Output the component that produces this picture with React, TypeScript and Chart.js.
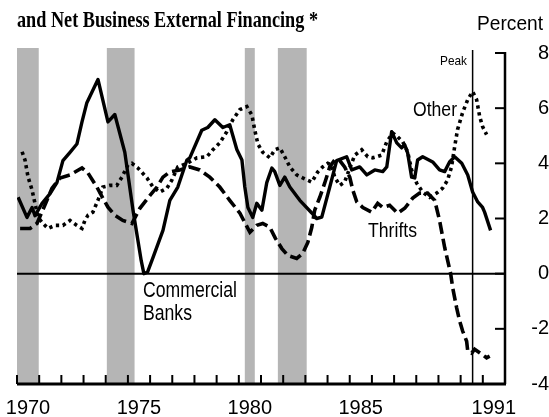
import React, { useEffect, useRef } from 'react';
import { Chart, registerables } from 'chart.js';

Chart.register(...registerables);

// ---- Data (year, percent) ----
const commercialBanks: [number, number][] = [
  [1970.05, 2.77], [1970.45, 2.04], [1970.68, 2.4], [1970.81, 2.1], [1971.13, 2.55], [1971.49, 2.9],
  [1971.8, 3.3], [1972.07, 4.1], [1972.39, 4.4], [1972.7, 4.7], [1972.93, 5.5], [1973.15, 6.2],
  [1973.65, 7.04], [1974.1, 5.5], [1974.41, 5.77], [1974.86, 4.4], [1975.23, 2.3], [1975.6, 0.47],
  [1975.72, 0.0], [1975.88, 0.05], [1976.13, 0.58], [1976.58, 1.57], [1976.89, 2.66], [1977.25, 3.14],
  [1977.66, 4.12], [1977.79, 4.2], [1978.33, 5.2], [1978.6, 5.3], [1978.92, 5.58], [1979.28, 5.3],
  [1979.59, 5.4], [1979.91, 4.5], [1980.14, 4.12], [1980.27, 3.14], [1980.41, 2.4], [1980.63, 2.04],
  [1980.81, 2.55], [1981.04, 2.3], [1981.26, 3.3], [1981.49, 3.83], [1981.62, 3.7], [1981.85, 3.2],
  [1982.07, 3.5], [1982.3, 3.14], [1982.75, 2.66], [1983.29, 2.2], [1983.51, 2.0], [1983.74, 2.05],
  [1984.1, 3.14], [1984.41, 4.1], [1984.86, 4.24], [1985.09, 3.76], [1985.45, 3.87], [1985.77, 3.58],
  [1986.13, 3.76], [1986.49, 3.7], [1986.67, 3.87], [1986.89, 5.15], [1987.12, 4.74], [1987.34, 4.56],
  [1987.48, 4.67], [1987.61, 4.38], [1987.79, 3.5], [1987.93, 3.47], [1988.06, 4.12], [1988.29, 4.24],
  [1988.74, 4.05], [1989.05, 3.76], [1989.28, 3.7], [1989.5, 4.05], [1989.73, 4.24], [1990.05, 4.0],
  [1990.32, 3.58], [1990.54, 2.96], [1990.77, 2.6], [1990.99, 2.4], [1991.08, 2.23], [1991.35, 1.57],
];

const thrifts: [number, number][] = [
  [1970.14, 1.64], [1970.59, 1.64], [1970.9, 1.82], [1971.35, 2.66], [1971.58, 3.1], [1971.94, 3.47],
  [1972.39, 3.58], [1972.93, 3.83], [1973.2, 3.65], [1973.6, 3.14], [1973.87, 2.74], [1974.1, 2.41],
  [1974.41, 2.12], [1974.77, 1.93], [1975.18, 1.82], [1975.54, 2.37], [1975.9, 2.74], [1976.31, 3.14],
  [1976.58, 3.5], [1976.89, 3.69], [1977.34, 3.76], [1977.79, 3.87], [1978.24, 3.76], [1978.69, 3.5],
  [1979.14, 3.14], [1979.59, 2.66], [1980.05, 2.19], [1980.5, 1.5], [1980.81, 1.75], [1981.08, 1.82],
  [1981.4, 1.68], [1981.65, 1.28], [1981.94, 0.91], [1982.21, 0.66], [1982.61, 0.55], [1982.88, 0.73],
  [1983.11, 1.13], [1983.29, 1.68], [1983.42, 2.3], [1983.65, 2.77], [1983.87, 3.28], [1984.1, 3.87],
  [1984.32, 4.12], [1984.55, 4.1], [1984.77, 3.87], [1985.0, 3.5], [1985.14, 3.03], [1985.32, 2.6],
  [1985.59, 2.4], [1985.99, 2.23], [1986.26, 2.55], [1986.49, 2.4], [1986.8, 2.48], [1987.16, 2.19],
  [1987.48, 2.37], [1987.84, 2.74], [1988.15, 2.92], [1988.51, 2.92], [1988.83, 2.66], [1989.05, 1.93],
  [1989.28, 0.95], [1989.55, 0.0], [1989.64, -0.5], [1989.82, -1.24], [1989.95, -1.7], [1990.09, -2.08],
  [1990.27, -2.45], [1990.32, -2.8], [1990.5, -2.88], [1990.63, -2.74], [1990.95, -2.92], [1991.17, -3.05],
  [1991.31, -2.99],
];

const other: [number, number][] = [
  [1970.23, 4.42], [1970.36, 4.12], [1970.5, 3.5], [1970.68, 3.03], [1970.81, 2.55], [1970.95, 2.04],
  [1971.17, 1.82], [1971.4, 1.64], [1971.71, 1.75], [1972.07, 1.75], [1972.39, 1.93], [1972.7, 1.75],
  [1972.93, 1.64], [1973.06, 1.93], [1973.2, 2.12], [1973.42, 2.23], [1973.65, 2.66], [1973.87, 3.14],
  [1974.19, 3.2], [1974.5, 3.2], [1974.73, 3.5], [1975.0, 3.94], [1975.18, 4.0], [1975.45, 3.83],
  [1975.86, 3.47], [1976.13, 3.14], [1976.44, 2.96], [1976.76, 3.1], [1976.98, 3.39], [1977.25, 3.87],
  [1977.66, 4.0], [1978.11, 4.2], [1978.56, 4.24], [1978.83, 4.49], [1979.14, 4.74], [1979.46, 5.15],
  [1979.73, 5.58], [1980.05, 5.95], [1980.36, 6.06], [1980.59, 5.75], [1980.72, 5.2], [1980.86, 4.7],
  [1981.08, 4.4], [1981.4, 4.2], [1981.62, 4.49], [1981.85, 4.56], [1982.07, 4.24], [1982.3, 3.87],
  [1982.61, 3.58], [1982.88, 3.47], [1983.29, 3.32], [1983.56, 3.69], [1983.78, 3.87], [1984.01, 4.0],
  [1984.19, 3.94], [1984.32, 3.5], [1984.55, 3.2], [1984.77, 3.32], [1985.0, 3.83], [1985.23, 4.3],
  [1985.54, 4.49], [1985.81, 4.24], [1986.04, 4.2], [1986.22, 4.24], [1986.44, 4.3], [1986.67, 4.78],
  [1986.94, 5.1], [1987.16, 4.96], [1987.39, 4.78], [1987.61, 4.42], [1987.79, 3.76], [1988.02, 3.28],
  [1988.29, 2.96], [1988.6, 2.77], [1988.92, 2.92], [1989.19, 3.1], [1989.41, 3.39], [1989.59, 3.87],
  [1989.73, 4.6], [1989.86, 5.22], [1990.09, 5.84], [1990.32, 6.31], [1990.54, 6.6], [1990.72, 6.31],
  [1990.86, 5.69], [1990.99, 5.33], [1991.17, 5.04],
];

const recessionStarts = [1970.0, 1974.05, 1980.27, 1981.76];
const recessionEnds = [1970.98, 1975.3, 1980.72, 1983.06];
const peakYear = 1990.54;
const xLabelYears = [1970, 1975, 1980, 1985, 1991];
const yMin = -4;
const yMax = 8;
const yStep = 2;

const title = 'and Net Business External Financing *';
const unitLabel = 'Percent';
const peakLabel = 'Peak';
const otherLabel = 'Other';
const thriftsLabel = 'Thrifts';
const banksLabel = ['Commercial', 'Banks'];

const SANS = '"Liberation Sans", Arial, sans-serif';
const SERIF = '"Liberation Serif", "Times New Roman", serif';
const BAND = '#b5b5b5';

// draw text horizontally condensed to a target width
function fitText(ctx: CanvasRenderingContext2D, text: string, x: number, baseline: number, font: string, width: number) {
  ctx.save();
  ctx.font = font;
  ctx.textAlign = 'left';
  ctx.textBaseline = 'alphabetic';
  const w = ctx.measureText(text).width;
  ctx.translate(x, baseline);
  ctx.scale(width / w, 1);
  ctx.fillText(text, 0, 0);
  ctx.restore();
}

const decorPlugin = {
  id: 'decor',
  beforeDatasetsDraw(chart: any) {
    const { ctx, chartArea, scales } = chart;
    const x = scales.x;
    const y = scales.y;
    ctx.save();
    ctx.fillStyle = BAND;
    recessionStarts.forEach((s, i) => {
      const x0 = x.getPixelForValue(s);
      const x1 = x.getPixelForValue(recessionEnds[i]);
      ctx.fillRect(x0, chartArea.top - 5, x1 - x0, chartArea.bottom - chartArea.top + 5);
    });
    ctx.strokeStyle = '#000';
    const y0 = y.getPixelForValue(0);
    ctx.lineWidth = 2;
    ctx.beginPath();
    ctx.moveTo(chartArea.left, y0);
    ctx.lineTo(chartArea.right, y0);
    ctx.stroke();
    const px = x.getPixelForValue(peakYear);
    ctx.lineWidth = 1.5;
    ctx.beginPath();
    ctx.moveTo(px, chartArea.top - 3);
    ctx.lineTo(px, chartArea.bottom);
    ctx.stroke();
    ctx.restore();
  },
  afterDraw(chart: any) {
    const { ctx, chartArea, scales } = chart;
    const x = scales.x;
    const y = scales.y;
    ctx.save();
    ctx.strokeStyle = '#000';
    ctx.fillStyle = '#000';
    ctx.lineWidth = 3;
    ctx.beginPath();
    ctx.moveTo(chartArea.left, chartArea.bottom);
    ctx.lineTo(chartArea.right + 1, chartArea.bottom);
    ctx.stroke();
    ctx.lineWidth = 2.5;
    ctx.beginPath();
    ctx.moveTo(chartArea.right, chartArea.top - 1);
    ctx.lineTo(chartArea.right, chartArea.bottom);
    ctx.stroke();
    ctx.lineWidth = 2;
    for (let yr = Math.ceil(x.min); yr < x.max; yr++) {
      const px = x.getPixelForValue(yr);
      ctx.beginPath();
      ctx.moveTo(px, chartArea.bottom);
      ctx.lineTo(px, chartArea.bottom - 9);
      ctx.stroke();
    }
    for (let v = yMin; v <= yMax; v += yStep) {
      const py = y.getPixelForValue(v);
      ctx.beginPath();
      ctx.moveTo(chartArea.right, py);
      ctx.lineTo(chartArea.right - 10, py);
      ctx.stroke();
    }
    fitText(ctx, title, 17, 27, `bold 23px ${SERIF}`, 301);
    fitText(ctx, unitLabel, 477, 30, `21px ${SANS}`, 66);
    fitText(ctx, peakLabel, 440, 65, `13px ${SANS}`, 27);
    fitText(ctx, otherLabel, 413, 116, `20px ${SANS}`, 44);
    fitText(ctx, thriftsLabel, 368, 237, `21px ${SANS}`, 49);
    fitText(ctx, banksLabel[0], 143, 297, `22px ${SANS}`, 94);
    fitText(ctx, banksLabel[1], 143, 320, `22px ${SANS}`, 49);
    ctx.restore();
  },
};

export default function App() {
  const canvasRef = useRef<HTMLCanvasElement | null>(null);

  useEffect(() => {
    if (!canvasRef.current) return;
    const toPts = (arr: [number, number][]) => arr.map(([a, b]) => ({ x: a, y: b }));
    const chart = new Chart(canvasRef.current, {
      type: 'line',
      data: {
        datasets: [
          {
            label: 'Commercial Banks',
            data: toPts(commercialBanks),
            borderColor: '#000',
            borderWidth: 3.4,
            pointRadius: 0,
            tension: 0,
            borderJoinStyle: 'round',
          },
          {
            label: 'Thrifts',
            data: toPts(thrifts),
            borderColor: '#000',
            borderWidth: 3.6,
            borderDash: [12, 5],
            pointRadius: 0,
            tension: 0,
          },
          {
            label: 'Other',
            data: toPts(other),
            borderColor: '#000',
            borderWidth: 3.6,
            borderDash: [3.3, 3.7],
            pointRadius: 0,
            tension: 0,
          },
        ],
      } as any,
      options: {
        responsive: false,
        animation: false,
        devicePixelRatio: 1,
        layout: { padding: { left: 17, top: 53, right: 0, bottom: 0 } },
        plugins: { legend: { display: false }, tooltip: { enabled: false } },
        scales: {
          x: {
            type: 'linear',
            min: 1970,
            max: 1992,
            grid: { display: false, drawTicks: false },
            border: { display: false },
            ticks: {
              stepSize: 1,
              autoSkip: false,
              maxRotation: 0,
              labelOffset: 11,
              padding: 12,
              color: '#000',
              font: { family: SANS, size: 20 },
              callback: (v: any) => (xLabelYears.includes(Number(v)) ? String(v) : ''),
            },
            afterFit: (s: any) => {
              s.height = 33;
              s.paddingLeft = 0;
              s.paddingRight = 0;
            },
          },
          y: {
            type: 'linear',
            position: 'right',
            min: yMin,
            max: yMax,
            grid: { display: false, drawTicks: false },
            border: { display: false },
            ticks: {
              stepSize: yStep,
              crossAlign: 'far',
              padding: 23,
              color: '#000',
              font: { family: SANS, size: 20 },
              callback: (v: any) => String(v),
            },
            afterFit: (s: any) => {
              s.width = 44;
              s.paddingTop = 0;
              s.paddingBottom = 0;
            },
          },
        },
      } as any,
      plugins: [decorPlugin],
    });
    return () => chart.destroy();
  }, []);

  return (
    <div style={{ position: 'absolute', left: 0, top: 0, width: 549, height: 417, background: '#fff' }}>
      <canvas ref={canvasRef} width={549} height={417} style={{ display: 'block' }} />
    </div>
  );
}
